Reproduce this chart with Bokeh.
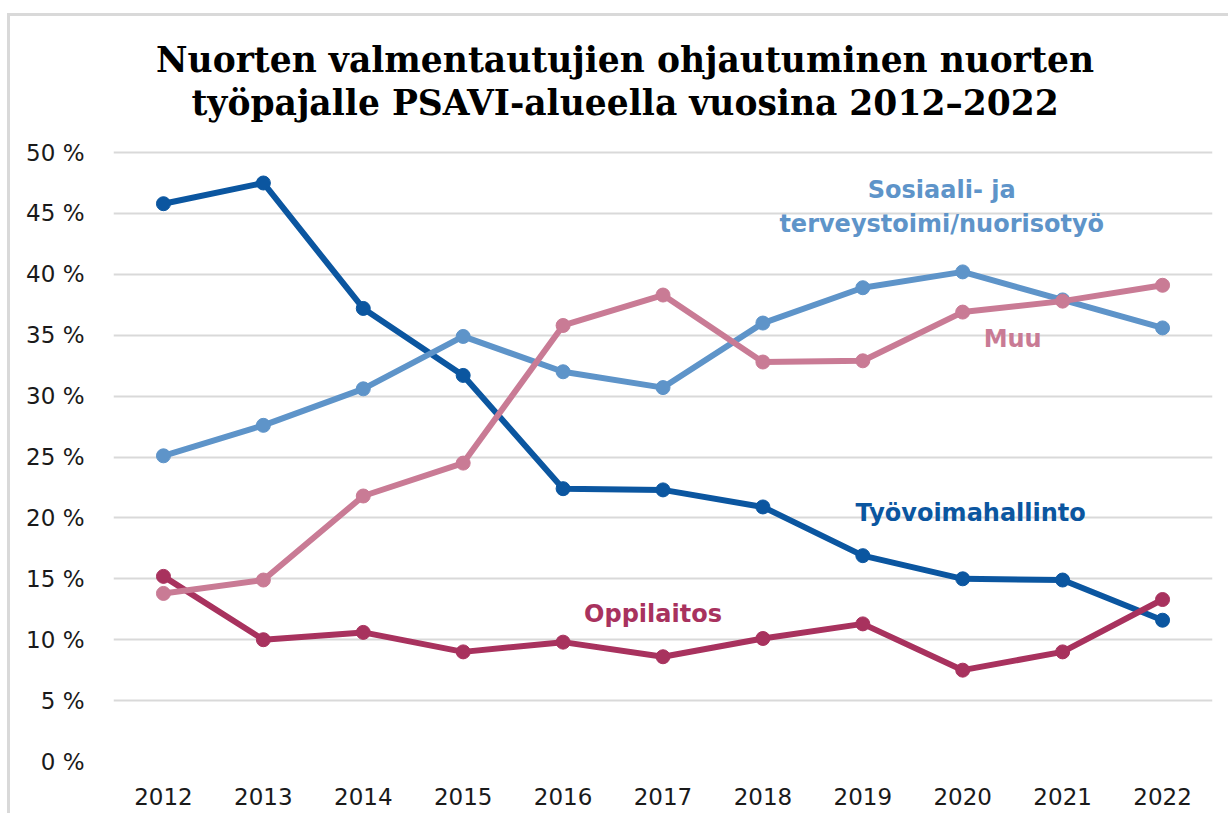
from bokeh.plotting import figure
from bokeh.models import Label, FixedTicker
from bokeh.embed import file_html
from bokeh.resources import INLINE

years = [2012, 2013, 2014, 2015, 2016, 2017, 2018, 2019, 2020, 2021, 2022]
tyovoima = [45.8, 47.5, 37.2, 31.7, 22.4, 22.3, 20.9, 16.9, 15.0, 14.9, 11.6]
sosiaali = [25.1, 27.6, 30.6, 34.9, 32.0, 30.7, 36.0, 38.9, 40.2, 37.9, 35.6]
muu = [13.8, 14.9, 21.8, 24.5, 35.8, 38.3, 32.8, 32.9, 36.9, 37.8, 39.1]
oppilaitos = [15.2, 10.0, 10.6, 9.0, 9.8, 8.6, 10.1, 11.3, 7.5, 9.0, 13.3]

y_ticks = [0, 5, 10, 15, 20, 25, 30, 35, 40, 45, 50]
y_tick_labels = ["0 %", "5 %", "10 %", "15 %", "20 %", "25 %", "30 %", "35 %", "40 %", "45 %", "50 %"]
x_tick_labels = [str(y) for y in years]

title_lines = ["Nuorten valmentautujien ohjautuminen nuorten",
               "työpajalle PSAVI-alueella vuosina 2012\u20132022"]

series_names = ["Työvoimahallinto", "Oppilaitos", "Sosiaali- ja\nterveystoimi/nuorisotyö", "Muu"]
series_values = [tyovoima, oppilaitos, sosiaali, muu]
series_colors = ["#0B56A0", "#A8325E", "#5E94C9", "#C97B95"]
label_x = [2020.08, 2016.9, 2019.79, 2020.5]
label_y = [20.38, 12.07, 45.5, 34.65]

# title placed in the (extended, empty) upper part of the plot area
title_x = 2016.62
title_y = [57.6, 54.07]

p = figure(width=1221, height=800, output_backend="svg", toolbar_location=None,
           x_range=(2011.5, 2022.5), y_range=(0, 61.17),
           min_border_left=103, min_border_right=19, min_border_top=0, min_border_bottom=55)
p.styles = {"border-top": "3px solid #D9D9D9", "border-left": "3px solid #D9D9D9",
            "margin-left": "7px", "margin-top": "13px"}
p.outline_line_color = None
p.background_fill_color = "white"
p.border_fill_color = "white"

p.xgrid.grid_line_color = None
p.ygrid.grid_line_color = "#D9D9D9"
p.ygrid.grid_line_width = 2
p.ygrid.ticker = FixedTicker(ticks=y_ticks)

p.yaxis.ticker = FixedTicker(ticks=y_ticks)
p.yaxis.major_label_overrides = {t: l for t, l in zip(y_ticks, y_tick_labels)}
p.xaxis.ticker = FixedTicker(ticks=years)
p.xaxis.major_label_overrides = {t: l for t, l in zip(years, x_tick_labels)}
for ax in (p.xaxis, p.yaxis):
    ax.axis_line_color = None
    ax.major_tick_line_color = None
    ax.minor_tick_line_color = None
    ax.major_label_text_font = "DejaVu Sans"
    ax.major_label_text_color = "#1a1a1a"
    ax.major_label_text_font_size = "23px"
p.yaxis.major_label_standoff = 23
p.xaxis.major_label_standoff = 20

for vals, col in zip(series_values, series_colors):
    p.line(years, vals, line_color=col, line_width=6)
    p.scatter(years, vals, size=14, fill_color=col, line_color=col)

for name, col, lx, ly in zip(series_names, series_colors, label_x, label_y):
    p.add_layout(Label(x=lx, y=ly, text=name, text_color=col, text_font="DejaVu Sans",
                       text_font_style="bold", text_font_size="24px", text_align="center",
                       text_baseline="middle", text_line_height=1.22))

for line, ty in zip(title_lines, title_y):
    p.add_layout(Label(x=title_x, y=ty, text=line,
                       text_font="DejaVu Serif", text_font_style="bold", text_font_size="34.5px",
                       text_align="center", text_baseline="alphabetic", text_color="black"))

open("out.html", "w").write(file_html(p, INLINE))
